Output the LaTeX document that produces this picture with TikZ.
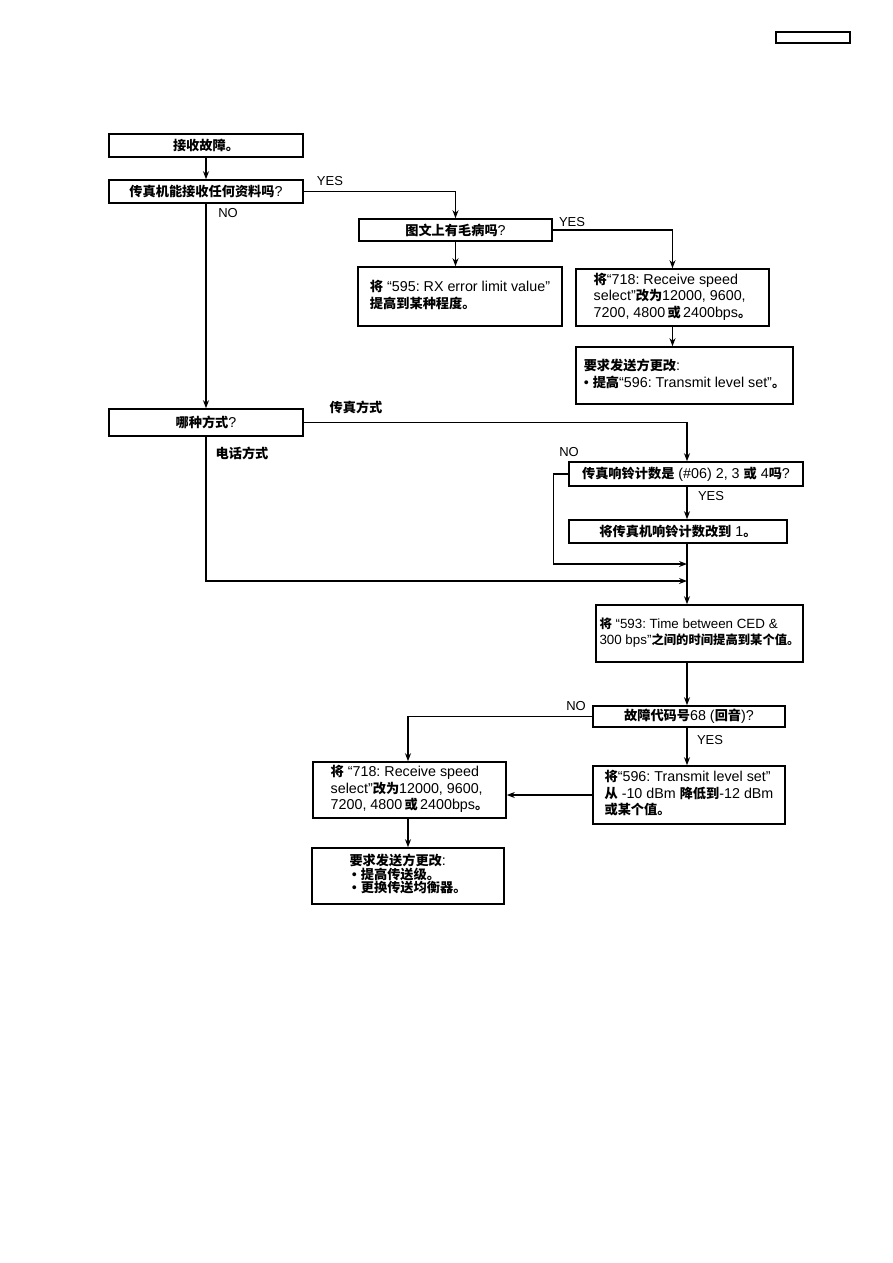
\documentclass[tikz,border=0pt]{standalone}
\usepackage{fontspec}
\setmainfont{Liberation Sans}
\newfontfamily\cjk{Noto Sans CJK SC}
\usetikzlibrary{arrows.meta}
\newcommand\zh[1]{{\cjk\bfseries\fontsize{13.2}{16.5}\selectfont #1}}
\newcommand\tb[1]{\begin{tabular}{@{}l@{}}#1\end{tabular}}
\tikzset{
  box/.style={draw, line width=1.6pt, inner sep=0pt, font=\fontsize{14.3}{16.5}\selectfont\frenchspacing, align=center},
  conn/.style={line width=1.2pt},
  arr/.style={conn, -{Stealth[length=8pt,width=6pt]}},
  lab/.style={font=\fontsize{13}{15}\selectfont, inner sep=0pt},
}
\begin{document}
\begin{tikzpicture}[x=1pt,y=-1pt]
\useasboundingbox (0,0) rectangle (893,1263);
\node[draw, line width=1.5pt, minimum width=74pt, minimum height=11pt, inner sep=0pt] (hdr) at (813,37.5) {};

\node[box, minimum width=194pt, minimum height=23pt] (b1) at (206,145.5) {\zh{接收故障。}};
\node[box, minimum width=194pt, minimum height=23pt] (b2) at (206,191.5) {\zh{传真机能接收任何资料吗}?};
\node[box, minimum width=193pt, minimum height=22pt] (b3) at (455.5,230) {\zh{图文上有毛病吗}?};
\node[box, minimum width=204pt, minimum height=59pt] (b4) at (460,296.5) {\tb{\zh{将} “595: RX error limit value”\\\zh{提高到某种程度。}}};
\node[box, minimum width=193pt, minimum height=57pt] (b5) at (672.5,297.5) {\tb{\zh{将}“718: Receive speed\\select”\zh{改为}12000, 9600,\\7200, 4800\,\zh{或}\,2400bps\zh{。}}};
\node[box, minimum width=217pt, minimum height=57pt] (b6) at (684.5,375.5) {\tb{\zh{要求发送方更改}:\\• \zh{提高}“596: Transmit level set”\zh{。}}};
\node[box, minimum width=194pt, minimum height=27pt] (b7) at (206,422.5) {\zh{哪种方式}?};
\node[box, minimum width=234pt, minimum height=24pt] (b8) at (686,474) {\zh{传真响铃计数是} (\#06) 2, 3 \zh{或} 4\zh{吗}?};
\node[box, minimum width=218pt, minimum height=23pt] (b9) at (678,531.5) {\zh{将传真机响铃计数改到} 1\zh{。}};
\node[box, minimum width=207pt, minimum height=57pt] (b10) at (699.5,633.5) {\resizebox{200pt}{!}{\tb{\zh{将} “593: Time between CED \&\\300 bps”\zh{之间的时间提高到某个值。}}}};
\node[box, minimum width=192pt, minimum height=21pt] (b11) at (689,716.5) {\zh{故障代码号}68 (\zh{回音})?};
\node[box, minimum width=193pt, minimum height=56pt] (b12) at (409.5,790) {\tb{\zh{将} “718: Receive speed\\select”\zh{改为}12000, 9600,\\7200, 4800\,\zh{或}\,2400bps\zh{。}}};
\node[box, minimum width=192pt, minimum height=58pt] (b13) at (689,795) {\tb{\zh{将}“596: Transmit level set”\\\zh{从} -10 dBm \zh{降低到}-12 dBm\\\zh{或某个值。}}};
\node[box, minimum width=192pt, minimum height=56pt] (b14) at (408,876) {\tb{\zh{要求发送方更改}:\\[-3pt]\,• \zh{提高传送级。}\\[-3pt]\,• \zh{更换传送均衡器。}}};

\coordinate (j1) at (687,564);
\coordinate (j2) at (687,581);

\draw[arr] (b1) -- (b2);
\draw[arr] (b2.east) -| (b3.north);
\draw[arr] (b3) -- (b3 |- b4.north);
\draw[arr] (b3.east) -| (b5.north);
\draw[arr] (b5.south) -- (b5.south |- b6.north);
\draw[arr] (b2) -- (b7);
\draw[arr] (b7.east) -| (j1 |- b8.north);
\draw[arr] (j1 |- b8.south) -- (j1 |- b9.north);
\draw[arr] (b8.west) -- ++(-15,0) |- (j1);
\draw[arr] (b7.south) |- (j2);
\draw[arr] (j1 |- b9.south) -- (j1 |- b10.north);
\draw[arr] (j1 |- b10.south) -- (j1 |- b11.north);
\draw[arr] (b11.west) -| (b14 |- b12.north);
\draw[arr] (j1 |- b11.south) -- (j1 |- b13.north);
\draw[arr] (b13.west) -- (b13.west -| b12.east);
\draw[arr] (b14 |- b12.south) -- (b14.north);

\node[lab] (l1) at (330,181) {YES};
\node[lab] (l2) at (228,213) {NO};
\node[lab] (l3) at (572,222) {YES};
\node[lab] (l4) at (356,407) {\zh{传真方式}};
\node[lab] (l5) at (242,453) {\zh{电话方式}};
\node[lab] (l6) at (569,452) {NO};
\node[lab] (l7) at (711,496) {YES};
\node[lab] (l8) at (576,706) {NO};
\node[lab] (l9) at (710,740) {YES};
\end{tikzpicture}
\end{document}
